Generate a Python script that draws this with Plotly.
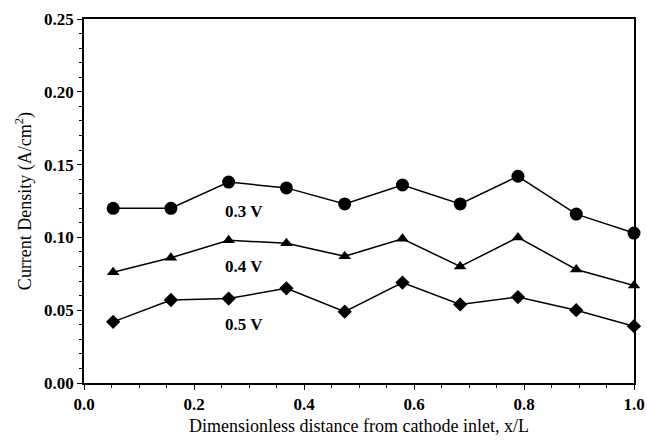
import plotly.graph_objects as go

x_pos = [0.053, 0.158, 0.263, 0.368, 0.474, 0.579, 0.684, 0.789, 0.895, 1.0]
v03 = [0.120, 0.120, 0.138, 0.134, 0.123, 0.136, 0.123, 0.142, 0.116, 0.103]
v04 = [0.076, 0.086, 0.098, 0.096, 0.087, 0.099, 0.080, 0.100, 0.078, 0.067]
v05 = [0.042, 0.057, 0.058, 0.065, 0.049, 0.069, 0.054, 0.059, 0.050, 0.039]
series_labels = ["0.3 V", "0.4 V", "0.5 V"]
label_x = [0.291, 0.291, 0.291]
label_y = [0.118, 0.080, 0.040]

FONT = "Liberation Serif"

fig = go.Figure()
for vals, sym, sz in [(v03, "circle", 13), (v04, "triangle-up", 11), (v05, "diamond", 11)]:
    fig.add_trace(go.Scatter(
        x=x_pos, y=vals, mode="lines+markers",
        line=dict(color="black", width=1.5),
        marker=dict(symbol=sym, size=sz, color="black"),
        showlegend=False, cliponaxis=False))

for t, lx, ly in zip(series_labels, label_x, label_y):
    fig.add_annotation(x=lx, y=ly, text=t, showarrow=False,
                       font=dict(family=FONT, size=17, color="black", weight="bold"))

axis_common = dict(showline=True, linecolor="black", linewidth=1.5, mirror=True,
                   ticks="outside", tickcolor="black", ticklen=5, tickwidth=1,
                   showgrid=False, zeroline=False, automargin=False,
                   tickfont=dict(family=FONT, size=17, color="black", weight="bold"))

fig.update_xaxes(range=[0, 1.0], tickvals=[0, 0.2, 0.4, 0.6, 0.8, 1.0],
                 ticktext=["0.0", "0.2", "0.4", "0.6", "0.8", "1.0"],
                 minor=dict(dtick=0.05, ticks="outside", ticklen=3, tickcolor="black"),
                 title=dict(text="Dimensionless distance from cathode inlet, x/L",
                            font=dict(family=FONT, size=18, color="black"), standoff=6),
                 **axis_common)
fig.update_yaxes(range=[0, 0.25], tickvals=[0, 0.05, 0.10, 0.15, 0.20, 0.25],
                 ticktext=["0.00", "0.05", "0.10", "0.15", "0.20", "0.25"],
                 minor=dict(dtick=0.01, ticks="outside", ticklen=3, tickcolor="black"),
                 title=dict(text="Current Density (A/cm<sup>2</sup>)",
                            font=dict(family=FONT, size=18, color="black"), standoff=8),
                 **axis_common)

fig.update_layout(width=647, height=442, margin=dict(l=84, r=13, t=19, b=59),
                  plot_bgcolor="white", paper_bgcolor="white")

fig.write_html("out.html", config={"displayModeBar": False},
               post_script="document.body.style.margin='0';document.body.style.overflow='hidden';")
